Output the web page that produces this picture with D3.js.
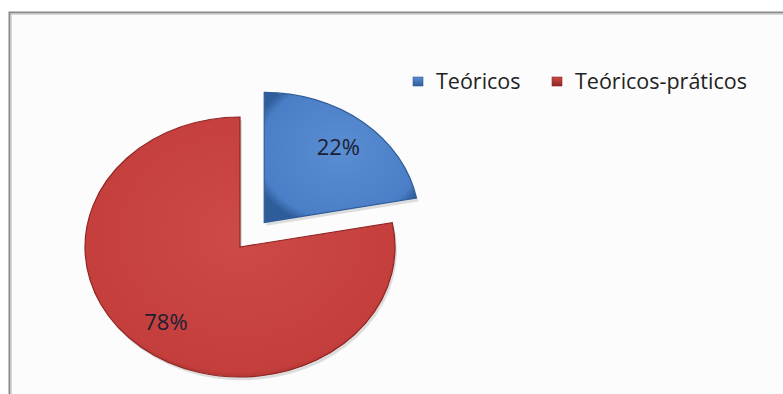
<!DOCTYPE html>
<html><head><meta charset="utf-8">
<script src="https://cdn.jsdelivr.net/npm/d3@7"></script>
<style>html,body{margin:0;padding:0;background:#fff;}svg{display:block;}</style>
</head><body>
<svg id="c" width="783" height="394"></svg>
<script>
const categories = ["Teóricos", "Teóricos-práticos"];
const values = [22, 78];
const labels = ["22%", "78%"];
const colors = ["#4a7ec6", "#c43e3c"];
const edgeColors = ["#2f5d9a", "#8e2624"];
const lightColors = ["#5a8dd2", "#cc4a47"];

const svg = d3.select("#c");
const W = 783, H = 394;

svg.append("rect").attr("x", 9.5).attr("y", 12.5).attr("width", W).attr("height", H)
  .attr("fill", "#fcfcfc").attr("stroke", "#8a8a8a").attr("stroke-width", 2);
svg.append("rect").attr("x", 11.5).attr("y", 14.5).attr("width", W).attr("height", H)
  .attr("fill", "none").attr("stroke", "#d8d8d8").attr("stroke-width", 1);

const defs = svg.append("defs");
colors.forEach((c, i) => {
  const g = defs.append("radialGradient").attr("id", "g" + i)
    .attr("cx", "50%").attr("cy", "45%").attr("r", "60%");
  g.append("stop").attr("offset", "0%").attr("stop-color", lightColors[i]);
  g.append("stop").attr("offset", "88%").attr("stop-color", c);
  g.append("stop").attr("offset", "100%").attr("stop-color", edgeColors[i]);
  const lg = defs.append("linearGradient").attr("id", "lg" + i)
    .attr("x1", 0).attr("y1", 0).attr("x2", 0).attr("y2", 1);
  lg.append("stop").attr("offset", "0%").attr("stop-color", lightColors[i]);
  lg.append("stop").attr("offset", "100%").attr("stop-color", edgeColors[i]);
});

const R = 155, sy = 130 / 155, cx = 240, cy = 247, explode = 38;
const pie = d3.pie().sort(null).value(d => d)(values);
const arc = d3.arc().innerRadius(0).outerRadius(R);
const g = svg.append("g").attr("transform", `translate(${cx},${cy}) scale(1,${sy})`);

pie.forEach((p, i) => {
  const mid = (p.startAngle + p.endAngle) / 2;
  const off = i === 0 ? explode : 0;
  const dx = off * Math.sin(mid), dy = -off * Math.cos(mid);
  const sg = g.append("g").attr("transform", `translate(${dx},${dy})`);
  sg.append("path").attr("d", arc(p)).attr("transform", "translate(2,4)")
    .attr("fill", "#000").attr("opacity", 0.12);
  sg.append("path").attr("d", arc(p)).attr("fill", `url(#g${i})`)
    .attr("stroke", edgeColors[i]).attr("stroke-width", 1.2)
    .attr("vector-effect", "non-scaling-stroke");
  const lr = R * 0.75;
  const lx = cx + dx + lr * Math.sin(mid);
  const ly = cy + (dy - lr * Math.cos(mid)) * sy;
  svg.append("text").attr("x", lx).attr("y", ly).attr("dy", "0.35em")
    .attr("text-anchor", "middle")
    .attr("font-family", "Open Sans, sans-serif").attr("font-size", 22)
    .attr("fill", "#1b1f33").text(labels[i]);
});

const legX = [413, 552];
categories.forEach((c, i) => {
  svg.append("rect").attr("x", legX[i]).attr("y", 77).attr("width", 10).attr("height", 9)
    .attr("fill", `url(#lg${i})`).attr("stroke", edgeColors[i]).attr("stroke-width", 0.6);
  svg.append("text").attr("x", legX[i] + 23).attr("y", 89)
    .attr("font-family", "Open Sans, sans-serif").attr("font-size", 21.5)
    .attr("fill", "#222").text(c);
});
</script>
</body></html>
